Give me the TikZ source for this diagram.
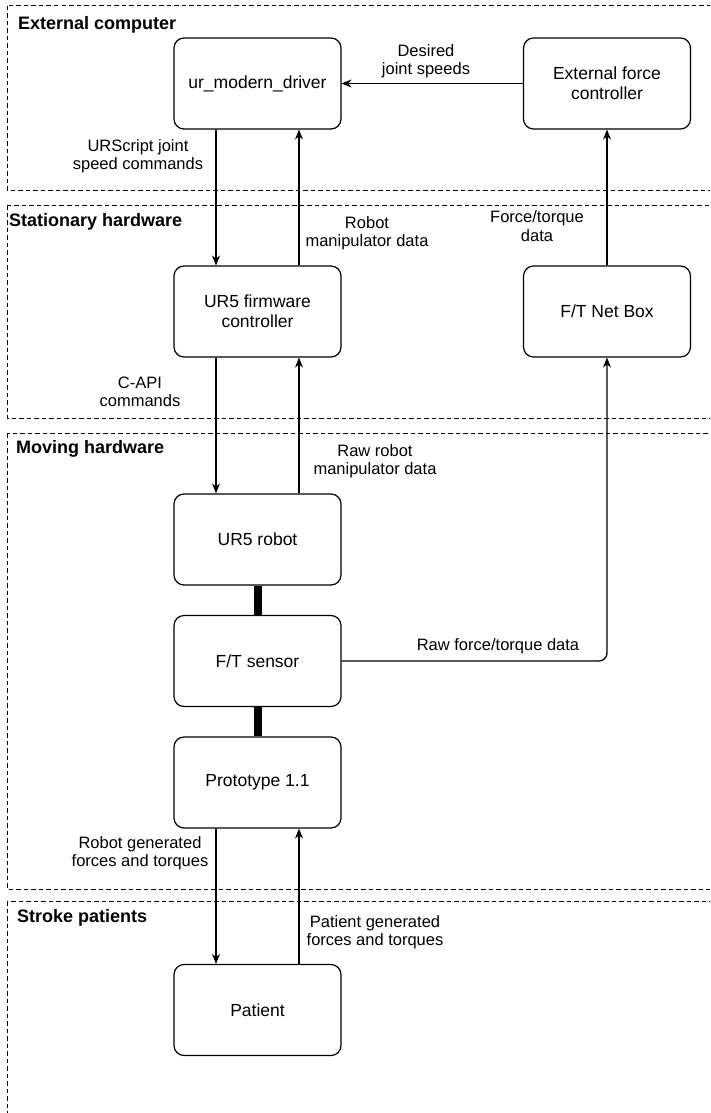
\documentclass[tikz,border=0pt]{standalone}
\usepackage{fontspec}
\setmainfont{Liberation Sans}
\usetikzlibrary{arrows.meta}
\begin{document}
\begin{tikzpicture}[x=1pt,y=-1pt,
  box/.style={draw,rounded corners=10pt,line width=1.2pt,minimum width=167pt,minimum height=91pt,align=center,font=\fontsize{17.5}{20}\selectfont},
  lbl/.style={align=center,inner sep=0pt,font=\fontsize{16.5}{18.5}\selectfont},
  zonetitle/.style={anchor=west,inner sep=0pt,font=\bfseries\fontsize{18}{20}\selectfont},
  zone/.style={draw,dash pattern=on 4.5pt off 3pt,line width=1pt},
  flow/.style={-{Stealth[length=10pt,width=8pt]},line width=1.3pt},
  rigid/.style={line width=8pt}]
  \clip (0,0) rectangle (710,1113);
  % zones
  \draw[zone] (7,6) rectangle (730,190);
  \draw[zone] (7,205) rectangle (730,418);
  \draw[zone] (7,433) rectangle (730,889);
  \draw[zone] (7,901) rectangle (730,1120);
  \node[zonetitle] (extitle) at (18,25) {External computer};
  \node[zonetitle] (sttitle) at (9,222) {Stationary hardware};
  \node[zonetitle] (mvtitle) at (16,449) {Moving hardware};
  \node[zonetitle] (sptitle) at (17,918) {Stroke patients};
  % blocks
  \node[box] (driver) at (257.5,83.5) {ur\_modern\_driver};
  \node[box] (forcectl) at (607,83.5) {External force\\controller};
  \node[box] (firmware) at (257.5,311.5) {UR5 firmware\\controller};
  \node[box] (netbox) at (607,311.5) {F/T Net Box};
  \node[box] (robot) at (257.5,539.5) {UR5 robot};
  \node[box] (sensor) at (257.5,661) {F/T sensor};
  \node[box] (proto) at (257.5,782.5) {Prototype 1.1};
  \node[box] (patient) at (257.5,1010) {Patient};
  % labels
  \node[lbl] (desired) at (426,61) {Desired\\joint speeds};
  \node[lbl] (urscript) at (138,156) {URScript joint\\speed commands};
  \node[lbl] (robotdata) at (367,233) {Robot\\manipulator data};
  \node[lbl] (ftdata) at (537,226) {Force/torque\\data};
  \node[lbl] (capi) at (140,392) {C-API\\commands};
  \node[lbl] (rawrobot) at (375,461) {Raw robot\\manipulator data};
  \node[lbl] (rawft) at (498,646) {Raw force/torque data};
  \node[lbl] (robotgen) at (140,853) {Robot generated\\forces and torques};
  \node[lbl] (patgen) at (375,932) {Patient generated\\forces and torques};
  % connectors
  \draw[flow] (forcectl) -- (driver);
  \draw[flow] ([xshift=-41.5pt]driver.south) -- ([xshift=-41.5pt]firmware.north);
  \draw[flow] ([xshift=41.5pt]firmware.north) -- ([xshift=41.5pt]driver.south);
  \draw[flow] (netbox) -- (forcectl);
  \draw[flow] ([xshift=-41.5pt]firmware.south) -- ([xshift=-41.5pt]robot.north);
  \draw[flow] ([xshift=41.5pt]robot.north) -- ([xshift=41.5pt]firmware.south);
  \draw[flow,rounded corners=8pt] (sensor.east) -| (netbox.south);
  \draw[flow] ([xshift=-41.5pt]proto.south) -- ([xshift=-41.5pt]patient.north);
  \draw[flow] ([xshift=41.5pt]patient.north) -- ([xshift=41.5pt]proto.south);
  \draw[rigid] (robot) -- (sensor);
  \draw[rigid] (sensor) -- (proto);
\end{tikzpicture}
\end{document}
